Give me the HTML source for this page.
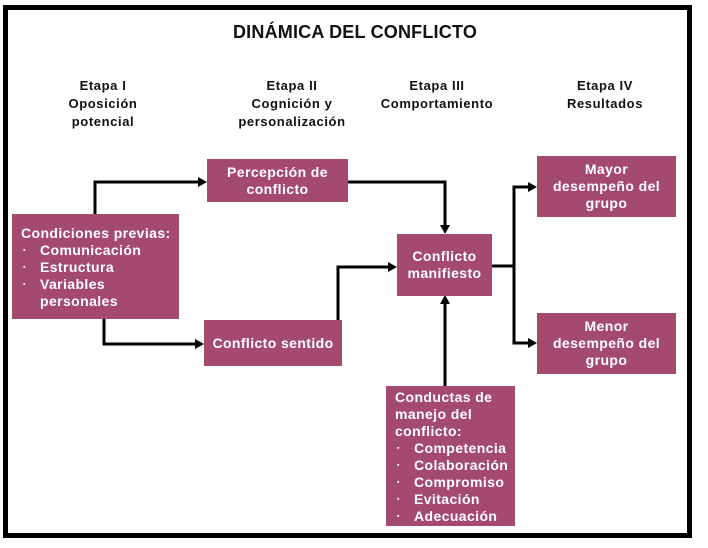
<!DOCTYPE html>
<html><head><meta charset="utf-8"><style>
body{margin:0;width:708px;height:548px;background:#fff;position:relative;overflow:hidden;font-family:"Liberation Sans",sans-serif;font-weight:bold}
.frame{position:absolute;left:3px;top:5px;width:679px;height:523px;border:5px solid #000}
.t{position:absolute;text-align:center;color:#111;font-size:13px;line-height:18px;letter-spacing:0.6px}
.b{position:absolute;background:#a54a6f;color:#fff;font-size:14px;line-height:17px;box-sizing:border-box;letter-spacing:0.4px;white-space:nowrap}
.c{display:flex;align-items:center;justify-content:center;text-align:center}
ul{margin:0;padding:0;list-style:none}
li{position:relative;padding-left:19px}
li:before{content:"▪";position:absolute;left:2px;font-size:7px}
svg{position:absolute;left:0;top:0}
</style></head><body>
<div class="frame"></div>
<div class="t" style="left:200px;top:21px;width:310px;font-size:18px;line-height:22px;letter-spacing:0.2px">DINÁMICA DEL CONFLICTO</div>
<div class="t" style="left:33px;top:77px;width:140px">Etapa I<br>Oposición<br>potencial</div>
<div class="t" style="left:212px;top:77px;width:160px">Etapa II<br>Cognición y<br>personalización</div>
<div class="t" style="left:357px;top:77px;width:160px">Etapa III<br>Comportamiento</div>
<div class="t" style="left:535px;top:77px;width:140px">Etapa IV<br>Resultados</div>
<svg width="708" height="548">
<g stroke="#000" stroke-width="3" fill="none">
<polyline points="95,214 95,182 200,182"/>
<polyline points="348,182 445,182 445,227"/>
<polyline points="338,320 338,267 390,267"/>
<polyline points="104,319 104,344 197,344"/>
<polyline points="492,266 514,266"/>
<polyline points="530,187 514,187 514,343 530,343"/>
<polyline points="445,386 445,302"/>
</g>
<g fill="#000">
<polygon points="207,182 198,177 198,187"/>
<polygon points="445,234 440,225 450,225"/>
<polygon points="397,267 388,262 388,272"/>
<polygon points="204,344 195,339 195,349"/>
<polygon points="537,187 528,182 528,192"/>
<polygon points="537,343 528,338 528,348"/>
<polygon points="445,295 440,304 450,304"/>
</g>
</svg>
<div class="b c" style="left:207px;top:159px;width:141px;height:43px">Percepción de<br>conflicto</div>
<div class="b" style="left:12px;top:214px;width:167px;height:105px;padding:11px 0 0 9px">Condiciones previas:<ul><li>Comunicación</li><li>Estructura</li><li>Variables<br>personales</li></ul></div>
<div class="b c" style="left:204px;top:320px;width:138px;height:46px">Conflicto sentido</div>
<div class="b c" style="left:397px;top:234px;width:95px;height:62px">Conflicto<br>manifiesto</div>
<div class="b c" style="left:537px;top:156px;width:139px;height:61px">Mayor<br>desempeño del<br>grupo</div>
<div class="b c" style="left:537px;top:313px;width:139px;height:61px">Menor<br>desempeño del<br>grupo</div>
<div class="b" style="left:386px;top:386px;width:129px;height:140px;padding:3px 0 0 9px">Conductas de<br>manejo del<br>conflicto:<ul><li>Competencia</li><li>Colaboración</li><li>Compromiso</li><li>Evitación</li><li>Adecuación</li></ul></div>
</body></html>
